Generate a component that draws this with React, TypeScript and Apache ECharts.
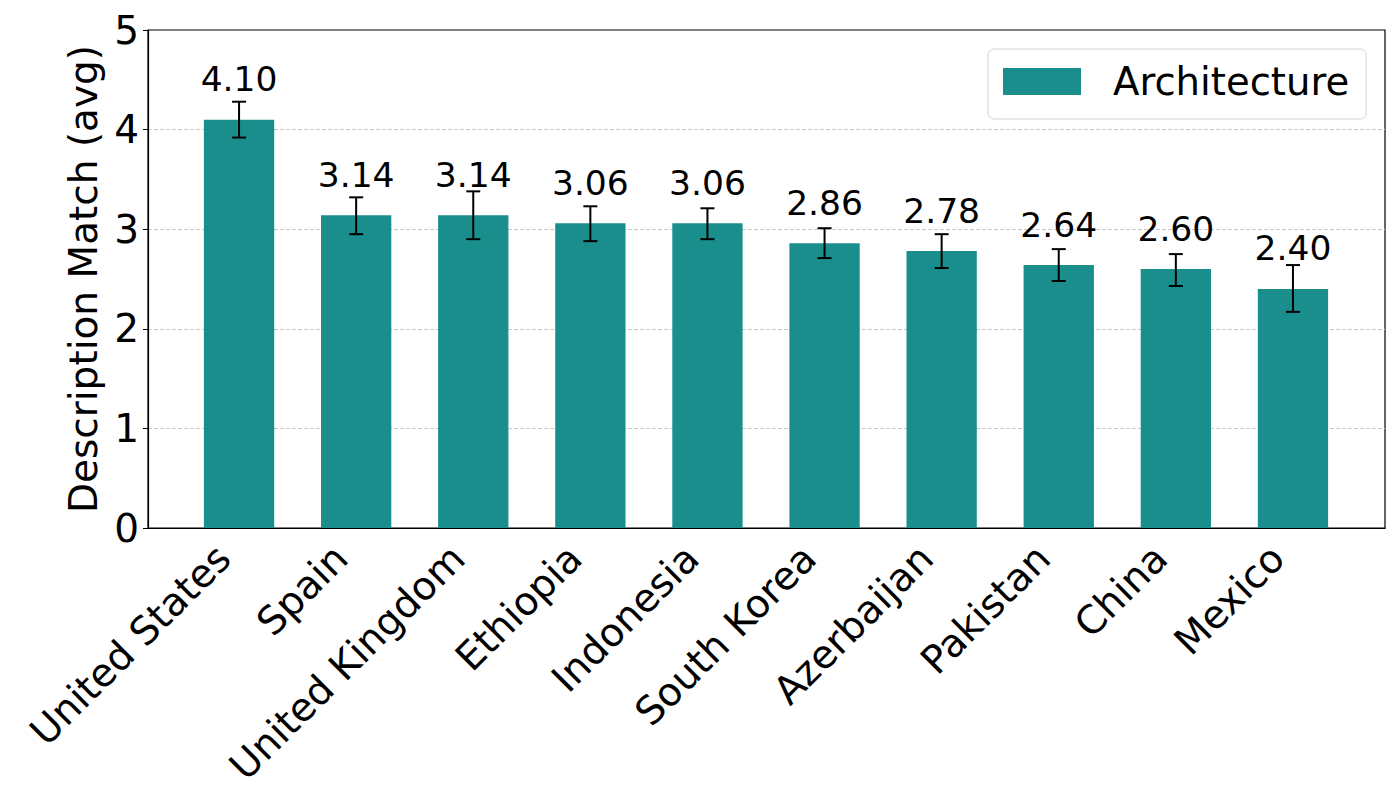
import React, { useEffect, useRef } from "react";
import * as echarts from "echarts";

const countries = [
  "United States",
  "Spain",
  "United Kingdom",
  "Ethiopia",
  "Indonesia",
  "South Korea",
  "Azerbaijan",
  "Pakistan",
  "China",
  "Mexico",
];
const averages = [4.1, 3.14, 3.14, 3.06, 3.06, 2.86, 2.78, 2.64, 2.6, 2.4];
const errLow = [3.92, 2.95, 2.9, 2.88, 2.9, 2.71, 2.61, 2.48, 2.43, 2.17];
const errHigh = [4.28, 3.32, 3.38, 3.23, 3.21, 3.01, 2.95, 2.8, 2.75, 2.64];

const TEAL = "#1a8e8c";
const FONT = "DejaVu Sans";

const App = () => {
  const chartRef = useRef<HTMLDivElement>(null);

  useEffect(() => {
    document.body.style.margin = "0";
    if (!chartRef.current) return;
    const chart = echarts.init(chartRef.current, undefined, { renderer: "svg" });

    const option: any = {
      animation: false,
      backgroundColor: "#fff",
      legend: {
        data: ["Architecture"],
        left: 988,
        top: 49,
        padding: [13, 17, 18, 15],
        icon: "rect",
        itemWidth: 78,
        itemHeight: 27,
        borderColor: "#d4d4d4",
        borderWidth: 1,
        borderRadius: 6,
        backgroundColor: "#fff",
        selectedMode: false,
        textStyle: { fontFamily: FONT, fontSize: 38.6, color: "#000", padding: [0, 0, 0, 27] },
      },
      grid: [
        // bars sit in the inner grid, the frame and y axis in the outer one
        { left: 180.5, width: 1171, top: 30, height: 498 },
        { left: 148, width: 1237, top: 30, height: 498, show: true, borderColor: "#000", borderWidth: 1.2, backgroundColor: "transparent" },
      ],
      xAxis: [
        {
          type: "category",
          gridIndex: 0,
          data: countries,
          axisLine: { show: false },
          axisTick: { alignWithLabel: true, length: 5, lineStyle: { color: "#000", width: 1 } },
          axisLabel: { interval: 0, rotate: 45, margin: 8, padding: [0, 22, 0, 0], fontFamily: FONT, fontSize: 39, color: "#000" },
        },
        {
          type: "value",
          gridIndex: 1,
          min: 0,
          max: 1,
          z: 5,
          axisLine: { show: true, onZero: false, lineStyle: { color: "#000", width: 1.2 } },
          axisTick: { show: false },
          axisLabel: { show: false },
          splitLine: { show: false },
        },
      ],
      yAxis: [
        { type: "value", gridIndex: 0, min: 0, max: 5, show: false, splitLine: { show: false } },
        {
          type: "value",
          gridIndex: 1,
          min: 0,
          max: 5,
          interval: 1,
          name: "Description Match (avg)",
          nameLocation: "middle",
          nameRotate: 90,
          nameGap: 42,
          nameTextStyle: { fontFamily: FONT, fontSize: 39, color: "#000" },
          axisLine: { show: true, lineStyle: { color: "#000", width: 1.2 } },
          axisTick: { show: true, length: 5, lineStyle: { color: "#000", width: 1 } },
          axisLabel: { margin: 9, fontFamily: FONT, fontSize: 39, color: "#000" },
          splitLine: { show: true, showMinLine: false, showMaxLine: false, lineStyle: { color: "#c8c8c8", width: 1, type: [4, 2] } },
        },
      ],
      series: [
        {
          name: "Architecture",
          type: "bar",
          xAxisIndex: 0,
          yAxisIndex: 0,
          barWidth: 70.3,
          itemStyle: { color: TEAL },
          label: {
            show: true,
            position: "top",
            distance: 23,
            fontFamily: FONT,
            fontSize: 34.5,
            color: "#000",
            formatter: (p: any) => p.value.toFixed(2),
          },
          data: averages,
        },
        {
          type: "custom",
          xAxisIndex: 0,
          yAxisIndex: 0,
          z: 4,
          silent: true,
          encode: { x: 0, y: [1, 2] },
          data: countries.map((_, i) => [i, errLow[i], errHigh[i]]),
          renderItem: (_params: any, api: any) => {
            const lo = api.coord([api.value(0), api.value(1)]);
            const hi = api.coord([api.value(0), api.value(2)]);
            const cap = 7;
            const line = { stroke: "#000", lineWidth: 2 };
            return {
              type: "group",
              children: [
                { type: "line", shape: { x1: lo[0], y1: lo[1], x2: hi[0], y2: hi[1] }, style: line },
                { type: "line", shape: { x1: lo[0] - cap, y1: lo[1], x2: lo[0] + cap, y2: lo[1] }, style: line },
                { type: "line", shape: { x1: hi[0] - cap, y1: hi[1], x2: hi[0] + cap, y2: hi[1] }, style: line },
              ],
            };
          },
        },
      ],
    };

    chart.setOption(option);
    return () => chart.dispose();
  }, []);

  return <div ref={chartRef} style={{ width: 1400, height: 800 }} />;
};

export default App;
